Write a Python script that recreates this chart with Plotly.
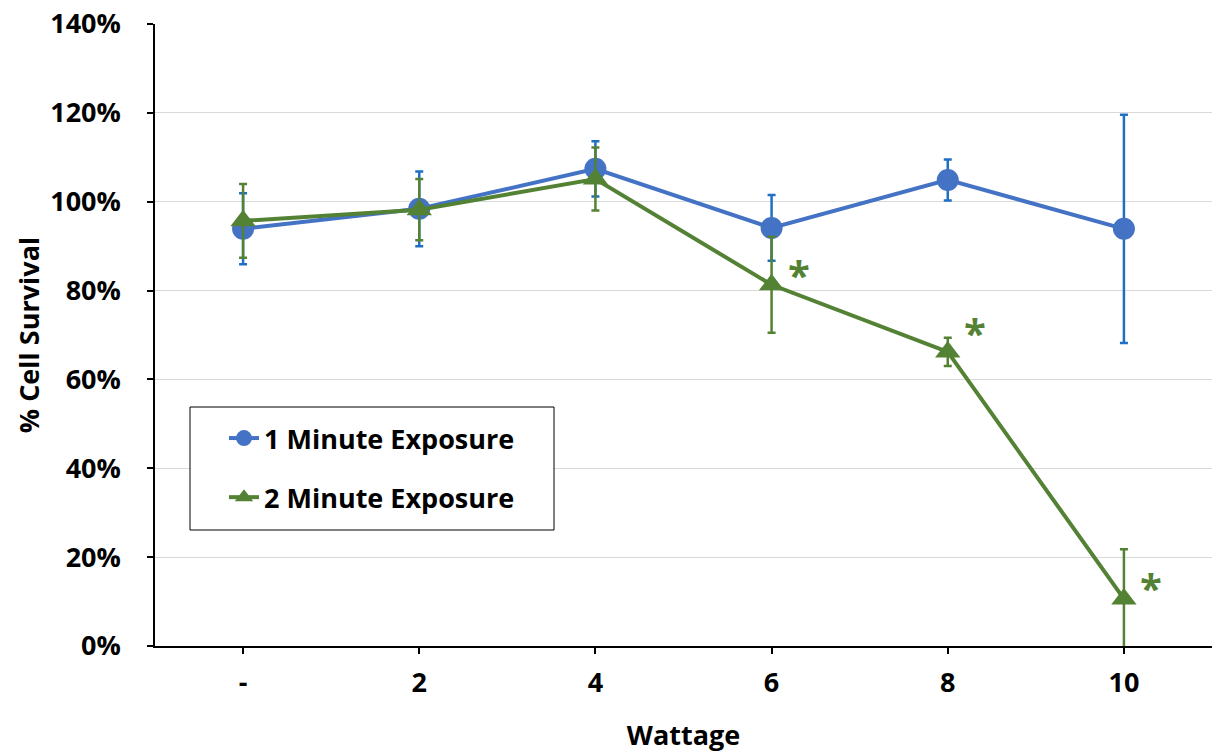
import plotly.graph_objects as go

categories = ["-", "2", "4", "6", "8", "10"]
one_min = [93.9, 98.4, 107.4, 94.1, 104.9, 93.9]
one_min_err = [8.0, 8.4, 6.2, 7.4, 4.6, 25.7]
two_min = [95.7, 98.2, 105.1, 81.3, 66.2, 10.6]
two_min_err = [8.3, 6.9, 7.1, 10.8, 3.2, 11.2]
star_cats = ["6", "8", "10"]
star_vals = [81.3, 66.2, 10.6]
yticks = [0, 20, 40, 60, 80, 100, 120, 140]

# styling: pixel offsets of the significance stars
star_yshift = [10, 19, 11]

BLUE = "#4472C4"
BLUE_ERR = "#1F6FC5"
GREEN = "#548235"
FONT = "Open Sans"

fig = go.Figure()
fig.add_trace(go.Scatter(
    x=categories, y=one_min, name="1 Minute Exposure", mode="lines+markers",
    line=dict(color=BLUE, width=4), marker=dict(symbol="circle", size=22, color=BLUE),
    error_y=dict(type="data", array=one_min_err, color=BLUE_ERR, thickness=2.5, width=4),
    legendgroup="a",
))
fig.add_trace(go.Scatter(
    x=categories, y=two_min, name="2 Minute Exposure", mode="lines+markers",
    line=dict(color=GREEN, width=4), marker=dict(symbol="triangle-up", size=22, color=GREEN),
    error_y=dict(type="data", array=two_min_err, color=GREEN, thickness=2.5, width=4),
    legendgroup="b",
))

for c, v, ys in zip(star_cats, star_vals, star_yshift):
    fig.add_annotation(x=categories.index(c), y=v, xref="x", yref="y", text="<b>*</b>",
                       showarrow=False, font=dict(family=FONT, size=40, color=GREEN),
                       xshift=27, yshift=ys)

# legend frame
fig.add_shape(type="rect", xref="paper", yref="paper",
              x0=(190 - 155) / 1057, x1=(554 - 155) / 1057,
              y0=(646 - 530) / 622, y1=(646 - 407) / 622,
              line=dict(color="black", width=1), fillcolor="white", layer="above")

fig.update_layout(
    width=1214, height=753,
    margin=dict(l=155, r=2, t=24, b=107),
    paper_bgcolor="white", plot_bgcolor="white",
    font=dict(family=FONT, color="black"),
    showlegend=True,
    legend=dict(x=(224 - 155) / 1057, y=(646 - 414) / 622, xanchor="left", yanchor="top",
                borderwidth=0, bgcolor="rgba(0,0,0,0)",
                font=dict(family=FONT, size=27, color="black", weight="bold"),
                tracegroupgap=21),
    xaxis=dict(type="category", range=[-0.5, 5.5], showgrid=False,
               showline=True, linecolor="black", linewidth=2,
               ticks="outside", ticklen=6, tickcolor="black", tickwidth=1.5,
               tickfont=dict(family=FONT, size=27, weight="bold"), ticklabelstandoff=6,
               title=dict(text="<b>Wattage</b>", font=dict(family=FONT, size=27), standoff=27)),
    yaxis=dict(range=[0, 140], tickvals=yticks, ticktext=[f"{t}%" for t in yticks],
               showgrid=True, gridcolor="#D9D9D9", gridwidth=1,
               showline=True, linecolor="black", linewidth=1.5,
               ticks="outside", ticklen=6, tickcolor="black", tickwidth=1.5,
               tickfont=dict(family=FONT, size=27, weight="bold"), ticklabelstandoff=21,
               zeroline=False,
               title=dict(text="<b>% Cell Survival</b>", font=dict(family=FONT, size=27), standoff=3)),
)

fig.write_html("out.html")
